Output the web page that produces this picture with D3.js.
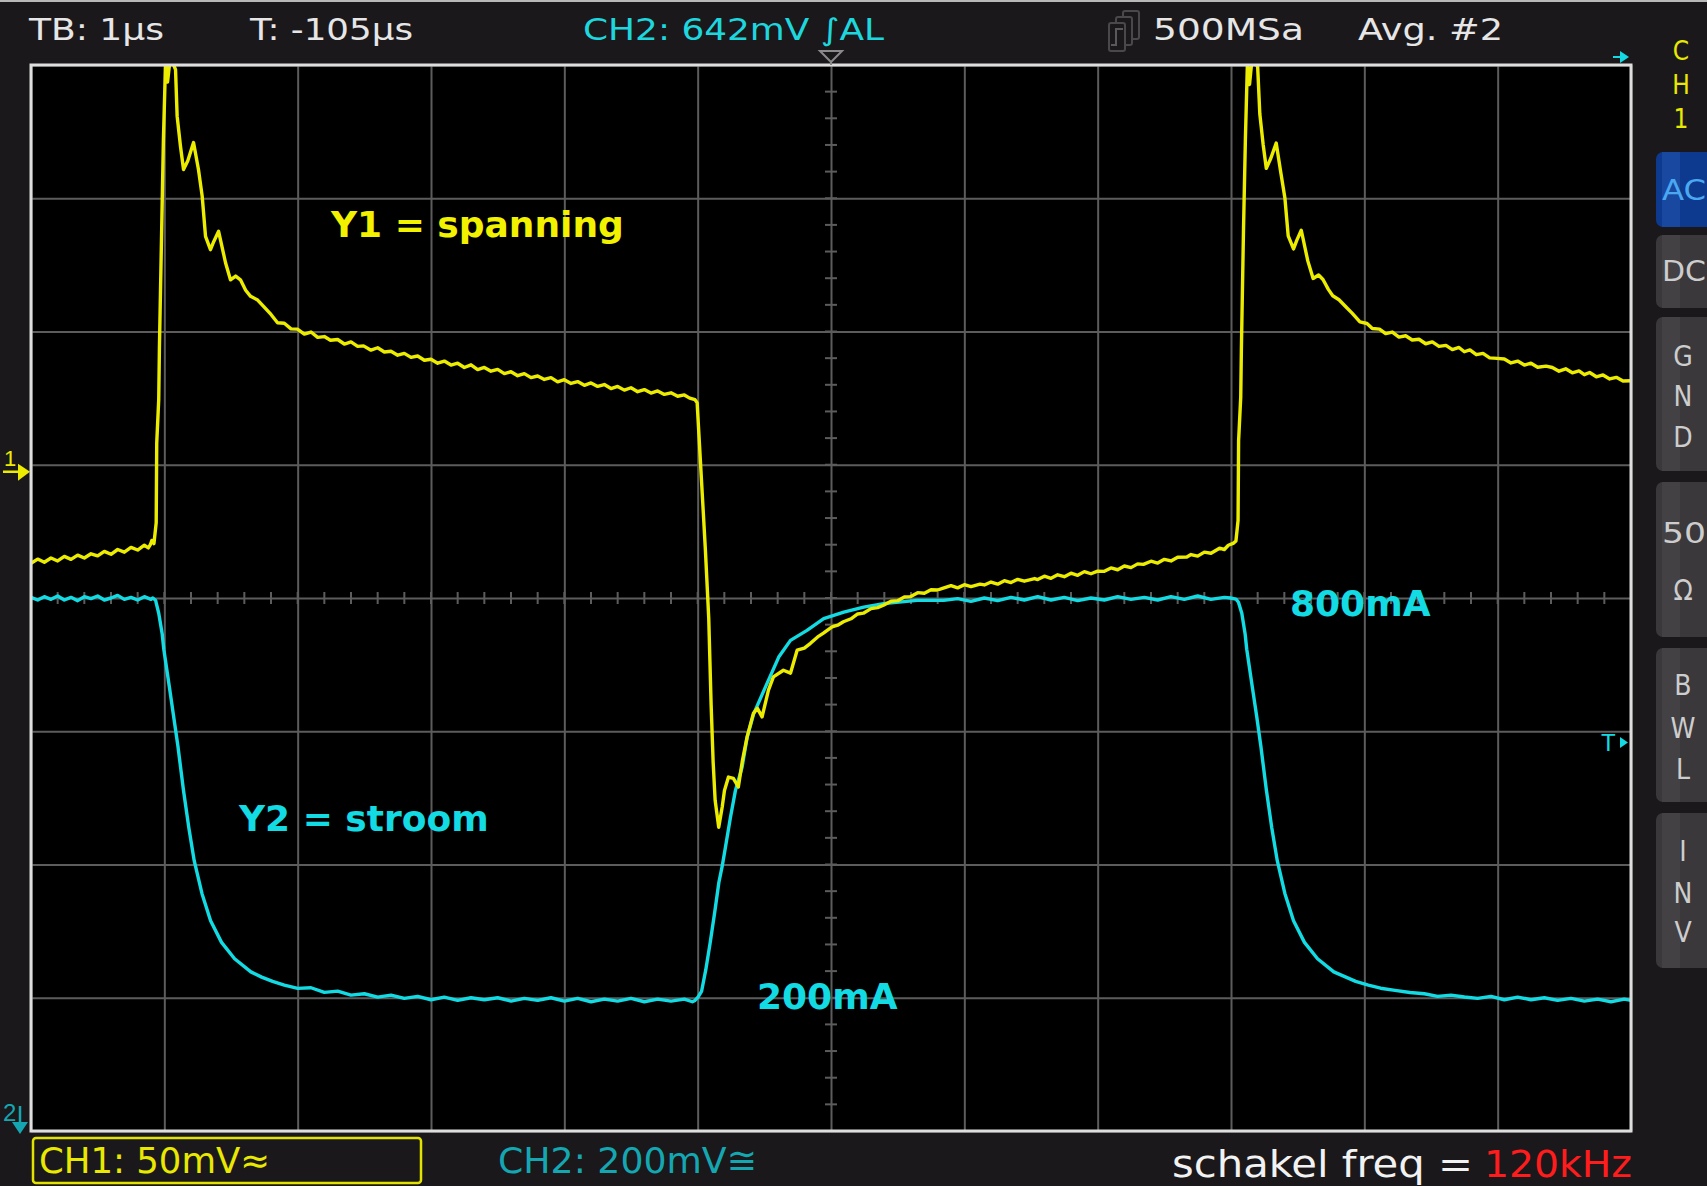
<!DOCTYPE html>
<html>
<head>
<meta charset="utf-8">
<script src="https://cdn.jsdelivr.net/npm/d3@7"></script>
<style>
  html, body { margin: 0; padding: 0; background: #1b181b; }
  svg { display: block; }
</style>
</head>
<body>
<svg id="scope" width="1707" height="1186"></svg>
<script>
// ---------------- DATA ----------------
// time axis (µs) grid divisions and vertical divisions
const timeTicksUs = [-6, -5, -4, -3, -2, -1, 0, 1, 2, 3, 4, 5, 6];
const vertDivs = [-4, -3, -2, -1, 0, 1, 2, 3, 4];

// CH1 (yellow) : voltage in mV  [time µs, mV]
const ch1Trace = [
  [-6.00,-37.0],[-5.95,-35.4],[-5.90,-36.6],[-5.85,-35.0],[-5.80,-36.1],[-5.75,-34.4],[-5.70,-35.5],
  [-5.65,-33.9],[-5.60,-35.0],[-5.55,-33.4],[-5.50,-34.2],[-5.45,-32.5],[-5.40,-33.6],[-5.35,-31.8],
  [-5.30,-32.8],[-5.25,-31.0],[-5.20,-32.0],[-5.15,-30.2],[-5.12,-31.2],[-5.105,-30.0],[-5.094,-28.4],
  [-5.078,-29.6],[-5.061,-21.7],[-5.057,8.2],[-5.042,24.5],[-5.037,43.4],[-5.020,88.3],[-5.007,121.9],
  [-4.991,150.5],[-4.976,143.6],[-4.955,153.0],[-4.916,148.3],[-4.904,130.8],[-4.879,119.5],[-4.856,110.8],
  [-4.824,114.1],[-4.781,120.9],[-4.744,110.8],[-4.716,100.7],[-4.691,85.7],[-4.654,80.7],[-4.629,83.8],
  [-4.593,87.6],[-4.541,75.8],[-4.504,69.4],[-4.465,70.8],[-4.429,69.4],[-4.39,65.5],[-4.353,63.2],
  [-4.30,61.8],[-4.256,59.4],[-4.20,56.4],[-4.151,53.3],[-4.10,53.1],[-4.05,51.0],[-4.002,50.9],
  [-3.95,49.0],[-3.90,49.8],[-3.85,47.8],[-3.80,48.1],[-3.754,46.7],[-3.70,47.0],[-3.65,45.3],
  [-3.60,46.1],[-3.55,44.4],[-3.506,44.6],[-3.45,43.0],[-3.40,43.9],[-3.35,42.3],[-3.30,42.6],
  [-3.25,41.1],[-3.20,41.8],[-3.15,40.3],[-3.10,40.8],[-3.05,39.2],[-3.00,39.6],[-2.95,38.1],
  [-2.90,38.9],[-2.85,37.4],[-2.80,38.1],[-2.75,36.5],[-2.70,37.5],[-2.65,35.7],[-2.60,36.5],
  [-2.55,35.1],[-2.50,35.8],[-2.45,34.2],[-2.40,34.9],[-2.35,33.4],[-2.30,34.2],[-2.25,32.7],
  [-2.20,33.3],[-2.15,32.0],[-2.10,32.7],[-2.05,31.1],[-2.00,31.9],[-1.95,30.5],[-1.90,31.2],
  [-1.85,29.8],[-1.80,30.7],[-1.75,29.4],[-1.70,30.1],[-1.65,28.6],[-1.60,29.4],[-1.55,28.0],
  [-1.50,28.9],[-1.45,27.4],[-1.40,28.2],[-1.35,26.9],[-1.30,27.7],[-1.25,26.4],[-1.20,27.0],
  [-1.15,25.7],[-1.10,26.2],[-1.06,25.0],[-1.02,24.4],[-1.004,23.3],
  [-0.942,-32.0],[-0.917,-57.5],[-0.899,-90.2],[-0.884,-111.5],[-0.869,-125.9],[-0.842,-136.0],
  [-0.816,-128.4],[-0.799,-122.2],[-0.769,-117.2],[-0.732,-117.7],[-0.695,-120.9],[-0.664,-110.9],
  [-0.629,-102.1],[-0.582,-93.3],[-0.552,-91.4],[-0.517,-94.6],[-0.469,-84.6],[-0.432,-79.6],
  [-0.357,-77.1],[-0.304,-78.2],[-0.254,-69.6],[-0.20,-68.8],[-0.154,-67.0],[-0.10,-64.6],
  [-0.057,-63.2],[0.008,-60.8],[0.05,-60.2],[0.093,-58.9],[0.15,-57.8],[0.20,-56.0],[0.243,-55.7],
  [0.30,-54.0],[0.35,-53.6],[0.393,-52.7],[0.45,-51.2],[0.50,-51.0],[0.55,-49.6],[0.595,-49.5],
  [0.65,-48.0],[0.70,-48.2],[0.75,-46.9],[0.80,-47.0],[0.842,-46.3],[0.90,-45.4],[0.95,-46.2],
  [1.00,-45.0],[1.05,-45.7],[1.118,-44.8],[1.15,-45.1],[1.20,-44.0],[1.25,-44.8],[1.30,-43.5],
  [1.35,-44.2],[1.40,-43.0],[1.45,-43.7],[1.527,-42.7],[1.55,-43.1],[1.60,-41.8],[1.65,-42.6],
  [1.70,-41.3],[1.75,-42.0],[1.80,-40.7],[1.85,-41.5],[1.90,-40.1],[1.95,-40.9],[2.00,-39.9],
  [2.05,-40.0],[2.10,-38.7],[2.15,-39.4],[2.20,-38.0],[2.25,-38.6],[2.30,-37.2],[2.343,-37.4],
  [2.40,-36.2],[2.45,-36.9],[2.50,-35.5],[2.55,-36.1],[2.60,-34.7],[2.669,-34.6],[2.70,-33.7],
  [2.75,-34.3],[2.80,-32.8],[2.85,-33.2],[2.914,-31.3],[2.95,-31.8],[2.98,-30.2],[3.020,-29.4],
  [3.037,-28.6],[3.053,-20.9],[3.057,9.0],[3.073,25.4],[3.078,43.8],[3.094,88.8],[3.108,122.3],
  [3.123,150.5],[3.139,142.7],[3.159,153.0],[3.200,149.3],[3.216,131.7],[3.241,120.2],[3.265,111.2],
  [3.298,114.9],[3.339,120.7],[3.371,110.4],[3.404,100.2],[3.429,85.9],[3.469,81.0],[3.494,84.3],
  [3.527,88.0],[3.576,76.5],[3.616,69.9],[3.657,71.2],[3.690,69.5],[3.73,65.8],[3.763,63.4],
  [3.81,61.9],[3.861,59.3],[3.91,56.8],[3.967,53.6],[4.02,53.0],[4.06,51.1],[4.114,50.9],
  [4.16,49.2],[4.21,49.8],[4.26,47.9],[4.31,48.4],[4.359,46.8],[4.41,47.1],[4.46,45.4],
  [4.51,46.1],[4.56,44.4],[4.612,44.8],[4.66,43.2],[4.71,44.0],[4.75,42.4],[4.792,43.1],
  [4.84,41.3],[4.89,41.8],[4.94,40.1],[4.996,39.9],[5.05,39.7],[5.10,38.2],[5.15,38.9],
  [5.20,37.4],[5.25,38.1],[5.30,36.6],[5.363,37.0],[5.41,36.5],[5.46,35.1],[5.51,36.0],
  [5.56,34.5],[5.61,35.2],[5.65,33.8],[5.690,34.6],[5.74,33.0],[5.79,33.7],[5.84,32.2],
  [5.89,32.8],[5.94,31.4],[6.00,31.5]
];

// CH2 (cyan) : current in mA  [time µs, mA]
const ch2Trace = [
  [-6.00,801],[-5.95,797],[-5.90,802],[-5.85,798],[-5.80,803],[-5.75,797],[-5.70,801],[-5.65,796],
  [-5.60,802],[-5.55,799],[-5.50,803],[-5.45,797],[-5.40,800],[-5.35,804],[-5.30,798],[-5.25,801],
  [-5.20,797],[-5.15,802],[-5.10,798],[-5.086,800],[-5.066,796.7],[-5.042,777.1],[-5.016,746.0],
  [-5.004,723.1],[-4.963,667.5],[-4.931,623.3],[-4.898,577.5],[-4.857,512.1],[-4.816,454.8],
  [-4.776,405.7],[-4.718,356.6],[-4.653,315.7],[-4.571,283.1],[-4.473,258.5],[-4.351,238.8],
  [-4.27,231],[-4.188,224.5],[-4.10,219],[-4.00,214],[-3.90,215],[-3.80,208],[-3.70,210],
  [-3.60,204],[-3.50,206],[-3.40,201],[-3.30,204],[-3.20,199],[-3.10,202],[-3.00,197],
  [-2.90,201],[-2.80,196],[-2.70,200],[-2.60,197],[-2.50,200],[-2.40,195],[-2.30,199],
  [-2.20,196],[-2.10,200],[-2.00,195],[-1.90,199],[-1.80,194],[-1.70,198],[-1.60,195],
  [-1.50,199],[-1.40,194],[-1.30,198],[-1.20,195],[-1.10,198],[-1.04,194],[-1.02,196],
  [-0.996,201.2],[-0.971,209.4],[-0.939,242.1],[-0.906,283.0],[-0.873,327.2],[-0.841,373.0],
  [-0.816,397.5],[-0.792,425.4],[-0.754,470.8],[-0.717,510.9],[-0.667,545.9],[-0.629,591.1],
  [-0.580,626.1],[-0.492,666.2],[-0.392,711.3],[-0.304,736.4],[-0.180,751.4],[-0.055,768.9],
  [0.096,778.9],[0.245,786.4],[0.395,791.5],[0.645,796.4],[0.845,796.4],
  [0.95,799],[1.05,795],[1.15,800],[1.25,796],[1.35,801],[1.45,797],[1.55,802],[1.65,797],
  [1.75,801],[1.85,796],[1.95,800],[2.05,797],[2.15,802],[2.25,798],[2.35,801],[2.45,797],
  [2.55,802],[2.65,798],[2.75,803],[2.85,798],[2.95,801],[2.996,800],
  [3.037,798.4],[3.056,793.5],[3.081,777.1],[3.106,746.0],[3.118,723.1],[3.159,667.5],
  [3.192,623.3],[3.224,577.5],[3.265,512.1],[3.306,454.8],[3.347,405.7],[3.404,356.6],
  [3.469,315.7],[3.551,283.1],[3.649,258.5],[3.771,238.8],[3.935,224.5],[4.03,219],
  [4.122,214.3],[4.23,211],[4.343,207.8],[4.45,206],[4.55,202],[4.65,204],[4.751,201.2],
  [4.85,199],[4.95,202],[5.05,197],[5.15,201],[5.25,197],[5.35,200],[5.45,196],[5.55,199],
  [5.65,195],[5.75,198],[5.85,194],[5.95,198],[6.00,196]
];

// text content
const headerLabels = ["TB: 1µs", "T: -105µs", "CH2: 642mV ∫AL", "500MSa", "Avg. #2"];
const footerLabels = ["CH1: 50mV≈", "CH2: 200mV≅", "schakel freq =", "120kHz"];
const traceLabels = ["Y1 = spanning", "Y2 = stroom", "800mA", "200mA"];
const sideButtons = [["AC"], ["DC"], ["G", "N", "D"], ["50", "Ω"], ["B", "W", "L"], ["I", "N", "V"]];
const channelName = ["C", "H", "1"];

// ---------------- DRAW ----------------
const svg = d3.select("#scope");
const L = 31, R = 1631, T = 65, B = 1131;
const W = R - L, H = B - T;

const x = d3.scaleLinear().domain([-6, 6]).range([L, R]);
const yDiv = d3.scaleLinear().domain([-4, 4]).range([B, T]);
const y1 = d3.scaleLinear().domain([-250, 150]).range([B, T]);   // CH1 mV
const y2 = d3.scaleLinear().domain([0, 1600]).range([B, T]);     // CH2 mA

svg.append("rect").attr("width", 1707).attr("height", 1186).attr("fill", "#1b181b");
svg.append("line").attr("x1", 0).attr("x2", 1707).attr("y1", 1).attr("y2", 1)
  .attr("stroke", "#b8b8b8").attr("stroke-width", 2);

svg.append("rect").attr("x", L).attr("y", T).attr("width", W).attr("height", H).attr("fill", "#000");

const gridColor = "#5c5c5c";
// vertical grid via axis
const gx = svg.append("g").attr("transform", `translate(0,${T})`)
  .call(d3.axisBottom(x).tickValues(timeTicksUs).tickSize(H).tickFormat(""));
gx.select(".domain").remove();
gx.selectAll(".tick line").attr("stroke", gridColor).attr("stroke-width", 2);

const gy = svg.append("g").attr("transform", `translate(${L},0)`)
  .call(d3.axisRight(yDiv).tickValues(vertDivs).tickSize(W).tickFormat(""));
gy.select(".domain").remove();
gy.selectAll(".tick line").attr("stroke", gridColor).attr("stroke-width", 2);

// minor ticks on centre cross
const minorX = d3.range(-6, 6.001, 0.2);
const minorY = d3.range(-4, 4.001, 0.2);
const cx = x(0), cy = yDiv(0);
svg.append("g").selectAll("line").data(minorX).join("line")
  .attr("x1", d => x(d)).attr("x2", d => x(d)).attr("y1", cy - 6).attr("y2", cy + 6)
  .attr("stroke", gridColor).attr("stroke-width", 2);
svg.append("g").selectAll("line").data(minorY).join("line")
  .attr("y1", d => yDiv(d)).attr("y2", d => yDiv(d)).attr("x1", cx - 6).attr("x2", cx + 6)
  .attr("stroke", gridColor).attr("stroke-width", 2);

// trace labels (drawn over grid)
const boldFont = "'DejaVu Sans', Verdana, sans-serif";
const yellow = "#ecec00", cyan = "#12dbe3", teal = "#14a7b2";
svg.append("text").text(traceLabels[0]).attr("x", 331).attr("y", 237)
  .attr("font-family", boldFont).attr("font-weight", "bold").attr("font-size", 36).attr("fill", "#f2f200");
svg.append("text").text(traceLabels[1]).attr("x", 239).attr("y", 831)
  .attr("font-family", boldFont).attr("font-weight", "bold").attr("font-size", 36).attr("fill", cyan);
svg.append("text").text(traceLabels[2]).attr("x", 1290).attr("y", 616)
  .attr("font-family", boldFont).attr("font-weight", "bold").attr("font-size", 36).attr("fill", cyan);
svg.append("text").text(traceLabels[3]).attr("x", 757).attr("y", 1009)
  .attr("font-family", boldFont).attr("font-weight", "bold").attr("font-size", 36).attr("fill", cyan);

// clip
svg.append("clipPath").attr("id", "plotclip").append("rect")
  .attr("x", L).attr("y", T).attr("width", W).attr("height", H);

const line1 = d3.line().x(d => x(d[0])).y(d => y1(d[1]));
const line2 = d3.line().x(d => x(d[0])).y(d => y2(d[1]));
const traces = svg.append("g").attr("clip-path", "url(#plotclip)");
traces.append("path").datum(ch2Trace).attr("d", line2).attr("fill", "none")
  .attr("stroke", cyan).attr("stroke-width", 3.4).attr("stroke-linejoin", "round");
traces.append("path").datum(ch1Trace).attr("d", line1).attr("fill", "none")
  .attr("stroke", yellow).attr("stroke-width", 3.4).attr("stroke-linejoin", "round");

// frame
svg.append("rect").attr("x", L).attr("y", T).attr("width", W).attr("height", H)
  .attr("fill", "none").attr("stroke", "#dedede").attr("stroke-width", 3);

// ---- markers ----
// trigger position (top centre)
svg.append("path").attr("d", `M${cx-11},51 L${cx+11},51 L${cx},62 Z`)
  .attr("fill", "none").attr("stroke", "#8a8a8a").attr("stroke-width", 2);
svg.append("line").attr("x1", cx).attr("x2", cx).attr("y1", 62).attr("y2", T)
  .attr("stroke", "#8a8a8a").attr("stroke-width", 2);
// cyan arrow top right
svg.append("line").attr("x1", 1613).attr("x2", 1622).attr("y1", 57).attr("y2", 57)
  .attr("stroke", cyan).attr("stroke-width", 2);
svg.append("path").attr("d", "M1620,51 L1629,57 L1620,63 Z").attr("fill", cyan);
// trigger level T>
svg.append("text").text("T").attr("x", 1601).attr("y", 751)
  .attr("font-family", "'Liberation Sans', sans-serif").attr("font-size", 24).attr("fill", cyan);
svg.append("path").attr("d", "M1620,737 L1628,742.5 L1620,748 Z").attr("fill", cyan);
// CH1 ground marker
const c1y = y1(0);
svg.append("text").text("1").attr("x", 4).attr("y", c1y + 1)
  .attr("font-family", "'Liberation Sans', sans-serif").attr("font-size", 22).attr("fill", yellow);
svg.append("line").attr("x1", 3).attr("x2", 20).attr("y1", c1y + 7).attr("y2", c1y + 7)
  .attr("stroke", yellow).attr("stroke-width", 2.5);
svg.append("path").attr("d", `M18,${c1y-1} L30,${c1y+7} L18,${c1y+16} Z`).attr("fill", yellow);
// CH2 marker (offscreen below)
svg.append("text").text("2").attr("x", 3).attr("y", 1121)
  .attr("font-family", "'Liberation Sans', sans-serif").attr("font-size", 24).attr("fill", teal);
svg.append("line").attr("x1", 20).attr("x2", 20).attr("y1", 1106).attr("y2", 1124)
  .attr("stroke", teal).attr("stroke-width", 2.5);
svg.append("path").attr("d", "M12,1122 L28,1122 L20,1134 Z").attr("fill", teal);

// ---- header ----
const narrow = "'Liberation Sans Narrow','DejaVu Sans Condensed','Liberation Sans',sans-serif";
function lbl(txt, x0, yb, len, size, color, weight) {
  return svg.append("text").text(txt).attr("x", x0).attr("y", yb)
    .attr("font-family", narrow).attr("font-size", size).attr("fill", color)
    .attr("font-weight", weight || "normal")
    .attr("textLength", len).attr("lengthAdjust", "spacingAndGlyphs");
}
lbl(headerLabels[0], 29, 40, 135, 30, "#e6e6e6");
lbl(headerLabels[1], 250, 40, 163, 30, "#e6e6e6");
lbl(headerLabels[2], 583, 40, 301, 30, "#1ed6de");
lbl(headerLabels[3], 1153, 40, 151, 30, "#e6e6e6");
lbl(headerLabels[4], 1358, 40, 145, 30, "#e6e6e6");
// acquisition icon
const icon = svg.append("g").attr("fill", "#1b181b").attr("stroke", "#4a484b").attr("stroke-width", 2);
icon.append("rect").attr("x", 1123).attr("y", 11).attr("width", 16).attr("height", 28).attr("rx", 2);
icon.append("rect").attr("x", 1116).attr("y", 17).attr("width", 16).attr("height", 28).attr("rx", 2);
icon.append("rect").attr("x", 1109).attr("y", 23).attr("width", 16).attr("height", 28).attr("rx", 2);
icon.append("path").attr("d", "M1111,45 h5 v-16 h7").attr("fill", "none").attr("stroke", "#5a585b");

// ---- side panel ----
channelName.forEach((c, i) => {
  svg.append("text").text(c).attr("x", 1681).attr("y", [60, 94, 128][i])
    .attr("text-anchor", "middle").attr("font-family", narrow).attr("font-size", 26)
    .attr("fill", "#e8e800");
});
const btnY = [[152, 227], [235, 308], [317, 471], [482, 637], [648, 802], [813, 968]];
const letterY = [[200], [281], [366, 406, 447], [543, 600], [695, 738, 779], [861, 903, 942]];
sideButtons.forEach((letters, i) => {
  const [a, b] = btnY[i];
  const isAC = i === 0;
  svg.append("rect").attr("x", 1656).attr("y", a).attr("width", 70).attr("height", b - a)
    .attr("rx", 7).attr("fill", isAC ? "#0d3a8e" : "#3a383b");
  svg.append("rect").attr("x", 1662).attr("y", a).attr("width", 18).attr("height", b - a)
    .attr("fill", isAC ? "#1848a0" : "#434144");
  letters.forEach((t, j) => {
    svg.append("text").text(t).attr("x", t.length > 1 ? 1684 : 1683).attr("y", letterY[i][j])
      .attr("text-anchor", "middle").attr("font-family", narrow).attr("font-size", 28)
      .attr("fill", isAC ? "#4aa8f2" : "#cdcdcd")
      .attr("textLength", t.length > 1 ? 44 : null).attr("lengthAdjust", "spacingAndGlyphs");
  });
});

// ---- footer ----
svg.append("rect").attr("x", 33).attr("y", 1138).attr("width", 388).attr("height", 45).attr("rx", 3)
  .attr("fill", "none").attr("stroke", "#e2e200").attr("stroke-width", 2.5);
lbl(footerLabels[0], 39, 1173, 231, 36, "#e8e800");
lbl(footerLabels[1], 498, 1173, 259, 36, teal);
lbl(footerLabels[2], 1172, 1177, 301, 38, "#f2f2f2");
lbl(footerLabels[3], 1484, 1177, 148, 38, "#ff1c1c");
</script>
</body>
</html>
